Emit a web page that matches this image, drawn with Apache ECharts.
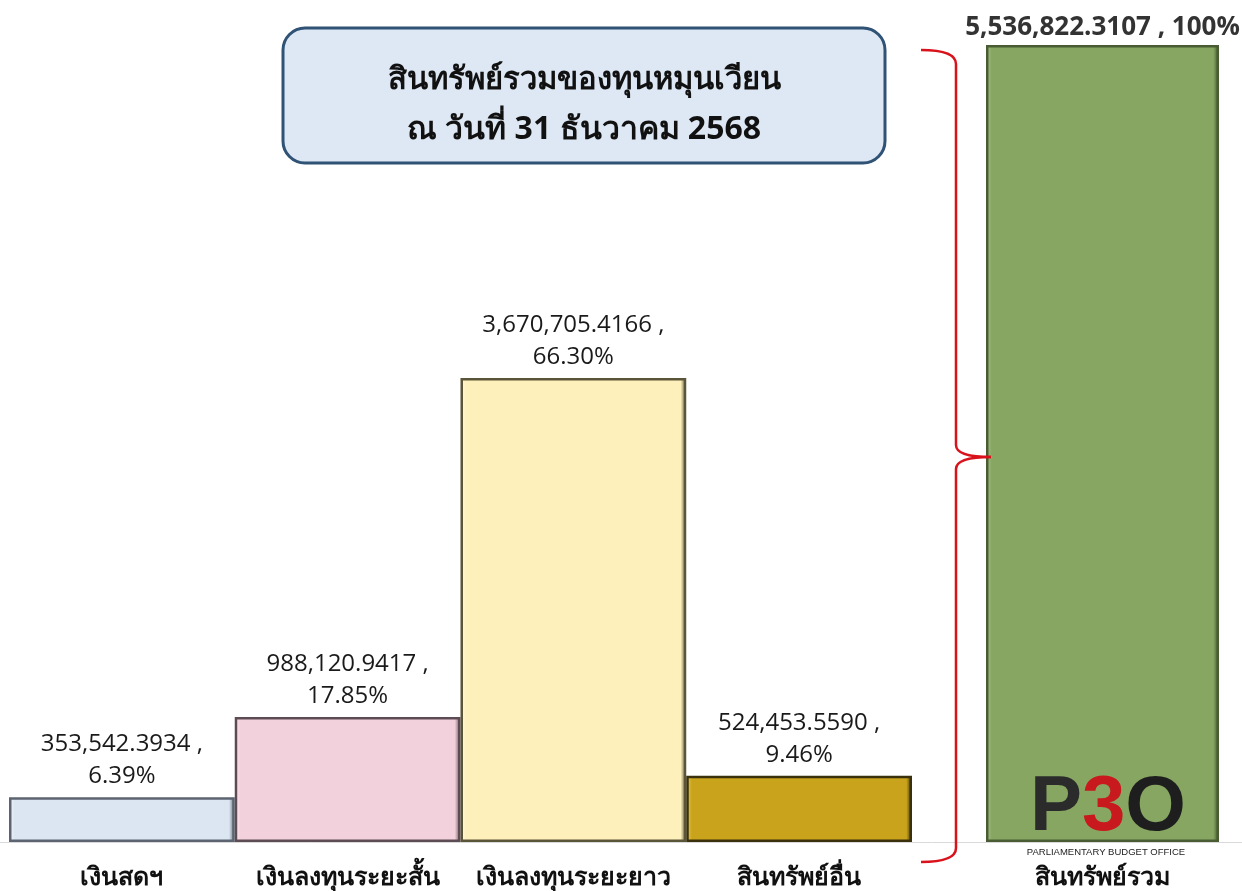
<!DOCTYPE html>
<html>
<head>
<meta charset="utf-8">
<script src="https://cdn.jsdelivr.net/npm/echarts@6/dist/echarts.min.js"></script>
<style>
html,body{margin:0;padding:0;background:#fff;}
#chart{width:1242px;height:891px;}
</style>
</head>
<body>
<div id="chart"></div>
<script>
// ---- data ----
const categories = ['เงินสดฯ', 'เงินลงทุนระยะสั้น', 'เงินลงทุนระยะยาว', 'สินทรัพย์อื่น'];
const values = [353542.3934, 988120.9417, 3670705.4166, 524453.5590];
const percents = ['6.39%', '17.85%', '66.30%', '9.46%'];
const totalCategory = ['สินทรัพย์รวม'];
const totalValue = [5536822.3107];
const totalPercent = ['100%'];
const titleLines = ['สินทรัพย์รวมของทุนหมุนเวียน', 'ณ วันที่ 31 ธันวาคม 2568'];

const fills = ['#dce6f2', '#f2d0dc', '#fdf0bb', '#c9a31b'];
const darks = ['#5b6470', '#5e4c54', '#5a5438', '#3a300c'];
const lights = ['#f4f8fc', '#fbeaf0', '#fffbe6', '#e8cb55'];

function fmt(v) {
  return v.toLocaleString('en-US', {minimumFractionDigits: 4, maximumFractionDigits: 4});
}
function grad(light, base, dark) {
  return {type: 'linear', x: 0, y: 0, x2: 1, y2: 0, colorStops: [
    {offset: 0, color: light}, {offset: 0.025, color: base},
    {offset: 0.975, color: base}, {offset: 1, color: dark}
  ]};
}

const chart = echarts.init(document.getElementById('chart'));
const labelFont = '"Open Sans", Lato, sans-serif';
const thaiFont = '"Noto Sans", "DejaVu Sans", sans-serif';
const braceStyle = {stroke: '#d9121b', lineWidth: 2.5, fill: null};

const option = {
  backgroundColor: '#ffffff',
  animation: false,
  grid: [
    {left: 9, right: 330, top: 45, bottom: 49},
    {left: 986, right: 23, top: 45, bottom: 49}
  ],
  xAxis: [
    {type: 'category', gridIndex: 0, data: categories,
     axisLine: {show: false}, axisTick: {show: false},
     axisLabel: {interval: 0, margin: 23, fontSize: 25, fontWeight: 'bold', color: '#111', fontFamily: thaiFont}},
    {type: 'category', gridIndex: 1, data: totalCategory,
     axisLine: {show: false}, axisTick: {show: false},
     axisLabel: {interval: 0, margin: 23, fontSize: 25, fontWeight: 'bold', color: '#111', fontFamily: thaiFont}}
  ],
  yAxis: [
    {type: 'value', gridIndex: 0, min: 0, max: 6305000, show: false, splitLine: {show: false}},
    {type: 'value', gridIndex: 1, min: 0, max: 5536822.3107, show: false, splitLine: {show: false}}
  ],
  series: [
    {
      type: 'bar', xAxisIndex: 0, yAxisIndex: 0, barCategoryGap: '0%',
      data: values.map((v, i) => ({
        value: v,
        itemStyle: {color: grad(lights[i], fills[i], darks[i]), borderColor: darks[i], borderWidth: 2.5},
        label: {formatter: fmt(v) + ' ,\n' + percents[i]}
      })),
      label: {show: true, position: 'top', distance: 5, fontSize: 24, lineHeight: 32,
              color: '#1a1a1a', fontFamily: labelFont}
    },
    {
      type: 'bar', xAxisIndex: 1, yAxisIndex: 1, barCategoryGap: '0%',
      data: totalValue.map((v, i) => ({
        value: v,
        itemStyle: {color: grad('#a9c48a', '#87a662', '#3f5229'), borderColor: '#4a5c33', borderWidth: 2.5},
        label: {formatter: fmt(v) + ' , ' + totalPercent[i]}
      })),
      label: {show: true, position: 'top', distance: 4, fontSize: 26, fontWeight: 'bold',
              color: '#333', fontFamily: labelFont}
    }
  ],
  graphic: [
    {type: 'line', shape: {x1: 0, y1: 842.5, x2: 1242, y2: 842.5}, style: {stroke: '#d9d9d9', lineWidth: 1}, z: 1},
    {type: 'rect', shape: {x: 283, y: 28, width: 602, height: 135, r: 22},
     style: {fill: '#dde8f4', stroke: '#2f5275', lineWidth: 3}, z: 10},
    {type: 'text', x: 584, y: 80, z: 11,
     style: {text: titleLines[0], fontSize: 31, fontWeight: 'bold', fontFamily: thaiFont, fill: '#111', align: 'center', verticalAlign: 'middle'}},
    {type: 'text', x: 584, y: 130, z: 11,
     style: {text: titleLines[1], fontSize: 32, fontWeight: 'bold', fontFamily: thaiFont, fill: '#111', align: 'center', verticalAlign: 'middle'}},
    // red brace
    {type: 'bezierCurve', z: 10, shape: {x1: 921, y1: 50, cpx1: 956, cpy1: 50, x2: 956, y2: 64}, style: braceStyle},
    {type: 'line', z: 10, shape: {x1: 956, y1: 64, x2: 956, y2: 445}, style: braceStyle},
    {type: 'bezierCurve', z: 10, shape: {x1: 956, y1: 445, cpx1: 956, cpy1: 457, x2: 991, y2: 457}, style: braceStyle},
    {type: 'bezierCurve', z: 10, shape: {x1: 991, y1: 457, cpx1: 956, cpy1: 457, x2: 956, y2: 469}, style: braceStyle},
    {type: 'line', z: 10, shape: {x1: 956, y1: 469, x2: 956, y2: 848}, style: braceStyle},
    {type: 'bezierCurve', z: 10, shape: {x1: 956, y1: 848, cpx1: 956, cpy1: 862, x2: 921, y2: 862}, style: braceStyle},
    // logo
    {type: 'text', x: 1108, y: 808, z: 12,
     style: {text: '{p|P}{b|3}{o|O}', align: 'center', verticalAlign: 'middle',
       rich: {
         p: {fontSize: 78, fontWeight: 'bold', fill: '#2b2b2b', fontFamily: 'Liberation Sans, sans-serif'},
         b: {fontSize: 78, fontWeight: 'bold', fill: '#c8191e', fontFamily: 'Liberation Sans, sans-serif'},
         o: {fontSize: 78, fontWeight: 'bold', fill: '#1e1e1e', fontFamily: 'Liberation Sans, sans-serif'}
       }}},
    {type: 'text', x: 1106, y: 852, z: 12,
     style: {text: 'PARLIAMENTARY BUDGET OFFICE', fontSize: 9.5, fontFamily: 'Liberation Sans, sans-serif', fill: '#222', align: 'center', verticalAlign: 'middle'}}
  ]
};
chart.setOption(option);
</script>
</body>
</html>
